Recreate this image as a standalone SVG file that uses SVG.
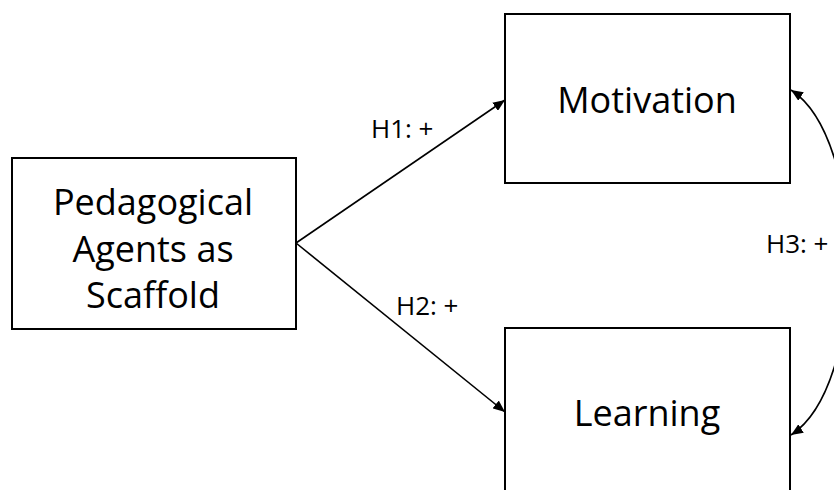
<svg xmlns="http://www.w3.org/2000/svg" width="834" height="490" viewBox="0 0 834 490">
<style>
.box{fill:#fff;stroke:#000;stroke-width:2}
.big{font-family:"Open Sans","Noto Sans","Liberation Sans",sans-serif;font-size:36px;fill:#000;text-anchor:middle}
.lbl{font-family:"Open Sans","Noto Sans","Liberation Sans",sans-serif;font-size:26px;fill:#000}
.conn{fill:none;stroke:#000;stroke-width:1.6}
</style>
<defs>
<marker id="arr" viewBox="0 0 12 10" refX="12" refY="5" markerWidth="12" markerHeight="10" markerUnits="userSpaceOnUse" orient="auto-start-reverse">
<path d="M0,0 L12,5 L0,10 z" fill="#000"/>
</marker>
</defs>
<rect width="834" height="490" fill="#fff"/>
<g id="connectors">
<path class="conn" d="M296,243 L505,100" marker-end="url(#arr)"/>
<path class="conn" d="M296,243 L505,412" marker-end="url(#arr)"/>
<path class="conn" d="M791,90 C868,140 868,385 791,435" marker-start="url(#arr)" marker-end="url(#arr)"/>
</g>
<g id="node-pedagogical">
<rect class="box" x="12" y="158" width="284" height="171"/>
<text class="big" x="153" y="215">Pedagogical</text>
<text class="big" x="153" y="262">Agents as</text>
<text class="big" x="153" y="308">Scaffold</text>
</g>
<g id="node-motivation">
<rect class="box" x="505" y="14" width="285" height="169"/>
<text class="big" x="647" y="113">Motivation</text>
</g>
<g id="node-learning">
<rect class="box" x="505" y="328" width="285" height="180"/>
<text class="big" x="647" y="426">Learning</text>
</g>
<g id="labels">
<text class="lbl" x="371" y="138">H1: +</text>
<text class="lbl" x="396" y="315">H2: +</text>
<text class="lbl" x="766" y="253">H3: +</text>
</g>
</svg>
